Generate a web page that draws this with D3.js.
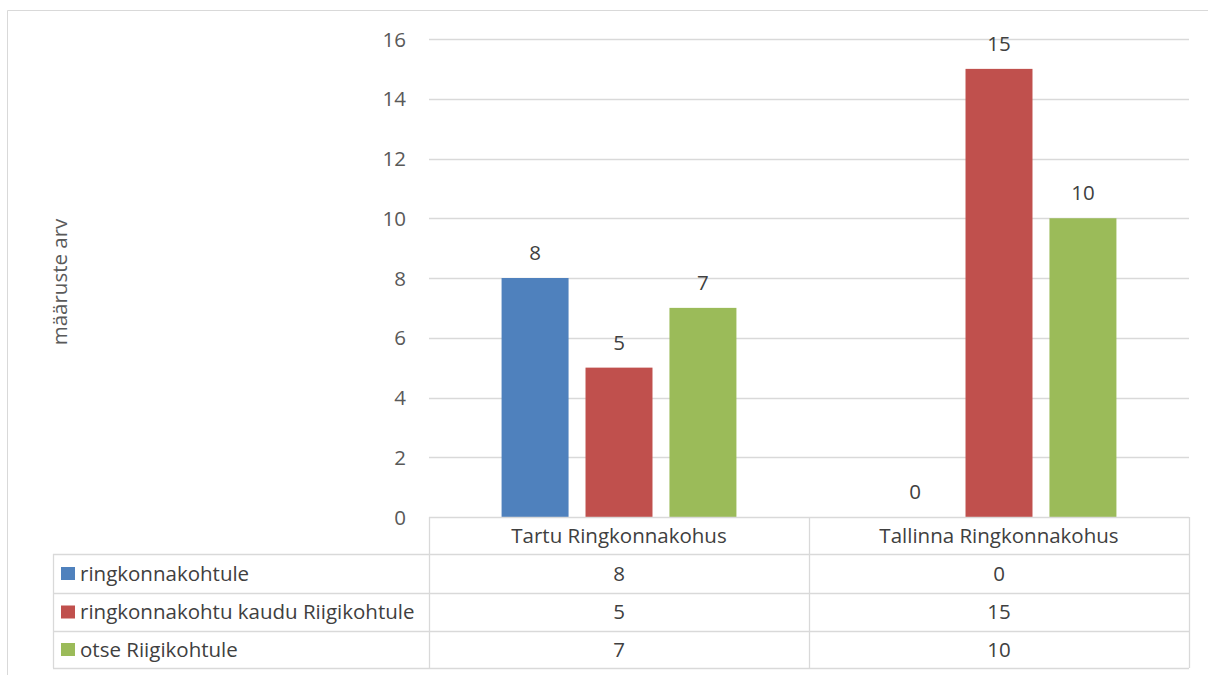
<!DOCTYPE html>
<html><head><meta charset="utf-8">
<script src="https://cdn.jsdelivr.net/npm/d3@7"></script>
<style>body{margin:0;background:#fff}svg{display:block}</style>
</head><body><svg id="c" width="1208" height="675"></svg>
<script>
const categories = ["Tartu Ringkonnakohus", "Tallinna Ringkonnakohus"];
const seriesNames = ["ringkonnakohtule", "ringkonnakohtu kaudu Riigikohtule", "otse Riigikohtule"];
const seriesColors = ["#4F81BD", "#C0504D", "#9BBB59"];
const valuesRingkonnakohtule = [8, 0];
const valuesKaudu = [5, 15];
const valuesOtse = [7, 10];
const yTicks = [0, 2, 4, 6, 8, 10, 12, 14, 16];
const yTitle = "määruste arv";

const seriesValues = [valuesRingkonnakohtule, valuesKaudu, valuesOtse];
const FONT = "'Open Sans', sans-serif";
const FS = 20.5;
const svg = d3.select("#c");
const gridCol = "#d9d9d9";

// outer frame
svg.append("line").attr("x1", 7.5).attr("x2", 1208).attr("y1", 10.5).attr("y2", 10.5).attr("stroke", gridCol);
svg.append("line").attr("x1", 7.5).attr("x2", 7.5).attr("y1", 10.5).attr("y2", 675).attr("stroke", gridCol);

const plotLeft = 429, plotRight = 1189, plotTop = 39, plotBottom = 517;
const y = d3.scaleLinear().domain([0, 16]).range([plotBottom, plotTop]);
const x0 = d3.scaleBand().domain(categories).range([plotLeft, plotRight]).padding(0);
const bw = x0.bandwidth();
const x1 = d3.scaleBand().domain(seriesNames).range([bw * 0.191, bw * 0.809]).paddingInner(0.202).paddingOuter(0);

// gridlines
svg.append("g").selectAll("line").data(yTicks.filter(d => d > 0)).join("line")
  .attr("x1", plotLeft).attr("x2", plotRight)
  .attr("y1", d => Math.round(y(d)) + 0.5).attr("y2", d => Math.round(y(d)) + 0.5)
  .attr("stroke", gridCol).attr("stroke-width", 1.3);

// y axis labels
const yAxis = d3.axisLeft(y).tickValues(yTicks).tickSize(0).tickPadding(0);
const ga = svg.append("g").attr("transform", `translate(406,0)`).call(yAxis);
ga.select(".domain").remove();
ga.selectAll("text").attr("font-family", FONT).attr("font-size", FS).attr("fill", "#595959").attr("dy", "0.35em");

// y title
svg.append("text").attr("transform", "translate(67,282) rotate(-90)")
  .attr("text-anchor", "middle").attr("font-family", FONT).attr("font-size", FS).attr("fill", "#595959").text(yTitle);

// bars
const bars = [];
categories.forEach((c, ci) => seriesNames.forEach((s, si) => bars.push({ c, s, si, v: seriesValues[si][ci] })));
const g = svg.append("g");
g.selectAll("rect").data(bars).join("rect")
  .attr("x", d => x0(d.c) + x1(d.s)).attr("width", x1.bandwidth())
  .attr("y", d => y(d.v)).attr("height", d => y(0) - y(d.v))
  .attr("fill", d => seriesColors[d.si]);
g.selectAll("text").data(bars).join("text")
  .attr("x", d => x0(d.c) + x1(d.s) + x1.bandwidth() / 2).attr("y", d => y(d.v) - 25)
  .attr("dy", "0.35em").attr("text-anchor", "middle")
  .attr("font-family", FONT).attr("font-size", FS).attr("fill", "#404040").text(d => d.v);

// data table
const tableLeft = 53;
const rowEdges = [517, 554, 593, 631, 668];
const tg = svg.append("g");
const hl = (x1_, x2_, yy) => tg.append("line").attr("x1", x1_).attr("x2", x2_).attr("y1", yy + 0.5).attr("y2", yy + 0.5).attr("stroke", gridCol).attr("stroke-width", 1.3);
const vl = (xx, y1_, y2_) => tg.append("line").attr("x1", xx + 0.5).attr("x2", xx + 0.5).attr("y1", y1_).attr("y2", y2_).attr("stroke", gridCol).attr("stroke-width", 1.3);
hl(plotLeft, plotRight, rowEdges[0]);
rowEdges.slice(1).forEach(r => hl(tableLeft, plotRight, r));
vl(tableLeft, rowEdges[1], rowEdges[4]);
[plotLeft, plotLeft + bw, plotRight].forEach(xx => vl(Math.round(xx), rowEdges[0], rowEdges[4]));

// header
tg.selectAll("text.h").data(categories).join("text").attr("class", "h")
  .attr("x", d => x0(d) + bw / 2).attr("y", (rowEdges[0] + rowEdges[1]) / 2).attr("dy", "0.35em")
  .attr("text-anchor", "middle").attr("font-family", FONT).attr("font-size", FS).attr("fill", "#404040").text(d => d);

seriesNames.forEach((s, si) => {
  const cy = (rowEdges[si + 1] + rowEdges[si + 2]) / 2;
  tg.append("rect").attr("x", 61).attr("y", cy - 6.5).attr("width", 14).attr("height", 13).attr("fill", seriesColors[si]);
  tg.append("text").attr("x", 80).attr("y", cy).attr("dy", "0.35em")
    .attr("font-family", FONT).attr("font-size", FS).attr("fill", "#404040").text(s);
  categories.forEach((c, ci) => {
    tg.append("text").attr("x", x0(c) + bw / 2).attr("y", cy).attr("dy", "0.35em")
      .attr("text-anchor", "middle").attr("font-family", FONT).attr("font-size", FS).attr("fill", "#404040")
      .text(seriesValues[si][ci]);
  });
});
</script></body></html>
